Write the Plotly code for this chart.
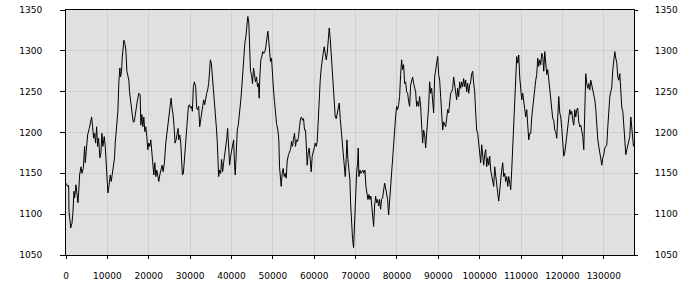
import plotly.graph_objects as go

# sample positions (x) and values (y)
x_part1 = [0, 402, 643, 724, 965, 1125, 1447, 1688, 1929, 2090, 2412, 2653, 2894, 3055, 3296, 3618, 3859, 4180, 4502, 4663,
           4984, 5225, 5627, 5949, 6190, 6431, 6672, 6914, 7155, 7396, 7637, 7878, 8200, 8441, 8682, 8923, 9245, 9486, 9727, 9888,
           10129, 10370, 10692, 10933, 11255, 11496, 11737, 11898, 12139, 12380, 12541, 12782, 13023, 13184, 13425, 13586, 13747, 13988, 14229, 14470,
           14711, 14953, 15194, 15354, 15676, 15998, 16239, 16480, 16721, 17043, 17284, 17605, 17927, 18088, 18329, 18570, 18811, 19052, 19294, 19535,
           19776, 20017, 20258, 20499, 20741, 20982, 21223, 21464, 21705, 21946, 22188, 22429, 22670, 22992, 23233, 23474, 23795, 24117, 24358, 24599,
           24921, 25162, 25403, 25644, 25886, 26127, 26368, 26609, 26850, 27091, 27252, 27493, 27735, 27976, 28137, 28378, 28619, 28860, 29101, 29342,
           29584, 29825, 30066, 30307, 30548, 30789, 31031, 31352, 31593, 31834, 32076, 32317, 32558, 32799, 33040, 33281, 33523, 33764, 34005, 34246,
           34487, 34728, 34889, 35130, 35372, 35613, 35854, 36095, 36336, 36577, 36738, 36899, 37140, 37381, 37622, 37863, 38105, 38346, 38587, 38828,
           39069, 39310, 39552, 39793, 40034, 40275, 40516, 40758, 40918, 41159, 41401, 41642]
y_part1 = [1138, 1134, 1135, 1103, 1093, 1083, 1089, 1103, 1128, 1120, 1136, 1126, 1114, 1126, 1148, 1158, 1150, 1156, 1183, 1163,
           1189, 1197, 1205, 1211, 1219, 1207, 1193, 1199, 1187, 1207, 1183, 1193, 1169, 1175, 1199, 1183, 1195, 1183, 1158, 1136,
           1126, 1134, 1148, 1140, 1150, 1163, 1169, 1187, 1203, 1211, 1226, 1262, 1279, 1268, 1275, 1291, 1307, 1313, 1309, 1301,
           1275, 1271, 1264, 1250, 1236, 1222, 1213, 1213, 1222, 1232, 1240, 1248, 1246, 1209, 1222, 1207, 1219, 1201, 1207, 1195,
           1179, 1187, 1183, 1191, 1175, 1165, 1148, 1163, 1146, 1154, 1144, 1140, 1148, 1156, 1160, 1152, 1163, 1187, 1197, 1207,
           1222, 1234, 1242, 1230, 1222, 1207, 1187, 1191, 1199, 1205, 1191, 1197, 1187, 1158, 1148, 1150, 1167, 1177, 1207, 1222,
           1232, 1234, 1230, 1232, 1226, 1256, 1262, 1256, 1230, 1228, 1232, 1207, 1219, 1224, 1232, 1240, 1234, 1244, 1248, 1252,
           1260, 1277, 1289, 1285, 1271, 1248, 1238, 1224, 1207, 1187, 1163, 1146, 1154, 1150, 1167, 1152, 1163, 1171, 1183, 1191,
           1205, 1183, 1160, 1171, 1177, 1187, 1191, 1158, 1148, 1175, 1203, 1209]

x_part2 = [42016, 42258, 42500, 42742, 42984, 43226, 43468, 43710, 43952, 44194, 44435, 44597, 44839, 45081, 45323, 45565, 45806, 46048, 46290, 46532,
           46694, 46855, 47097, 47339, 47581, 47823, 48065, 48306, 48548, 48790, 49032, 49274, 49435, 49677, 49919, 50161, 50403, 50645, 50887, 51210,
           51452, 51613, 51774, 52016, 52258, 52500, 52742, 52984, 53226, 53468, 53790, 54032, 54274, 54516, 54758, 55000, 55242, 55484, 55726, 55968,
           56210, 56452, 56694, 56935, 57177, 57419, 57661, 57903, 58145, 58306, 58548, 58790, 59032, 59274, 59516, 59758, 60000, 60242, 60484, 60726,
           60968, 61210, 61452, 61694, 61935, 62177, 62419, 62661, 62903, 63145, 63387, 63629, 63871, 64113, 64355, 64597, 64839, 65081, 65323, 65565,
           65806, 66048, 66290, 66532, 66774, 67016, 67258, 67500, 67742, 67903, 68145, 68387, 68629, 68790, 69032, 69274, 69516, 69758, 70000, 70242,
           70484, 70645, 70806, 71048, 71290, 71532, 71774, 72016, 72258, 72500, 72742, 72984, 73226, 73468, 73710, 73952, 74194, 74355, 74597, 74839,
           75081, 75323, 75565, 75806, 76048, 76290, 76532, 76774, 77016, 77258, 77500, 77742, 77984, 78226, 78468, 78710, 78952, 79194, 79435, 79677,
           79919, 80161, 80403, 80645, 80887, 81129, 81371, 81613, 81855, 82097, 82339, 82581, 82823, 83065, 83306, 83548, 83790, 84032, 84274, 84516,
           84758, 85000, 85242, 85484, 85726, 85968, 86210, 86452, 86694, 86935, 87177, 87419, 87661, 87903, 88145, 88387, 88629, 88871, 89113, 89355,
           89597, 89839, 90081, 90323, 90565, 90806, 91048, 91290, 91532, 91774, 92016, 92258, 92500, 92742, 92984, 93226, 93468, 93710, 93952, 94194,
           94435, 94677, 94919]
y_part2 = [1224, 1240, 1256, 1277, 1289, 1309, 1317, 1334, 1342, 1334, 1309, 1275, 1271, 1260, 1279, 1268, 1262, 1268, 1256, 1260,
           1242, 1268, 1289, 1293, 1299, 1297, 1299, 1305, 1313, 1324, 1311, 1299, 1287, 1291, 1264, 1252, 1238, 1222, 1211, 1203,
           1191, 1158, 1142, 1134, 1150, 1156, 1146, 1150, 1144, 1165, 1173, 1177, 1179, 1189, 1183, 1193, 1199, 1183, 1191, 1189,
           1195, 1207, 1217, 1219, 1215, 1217, 1203, 1203, 1183, 1160, 1175, 1181, 1167, 1152, 1171, 1175, 1181, 1187, 1183, 1189,
           1219, 1256, 1264, 1279, 1291, 1297, 1305, 1295, 1289, 1297, 1317, 1328, 1315, 1297, 1275, 1258, 1240, 1219, 1217, 1224,
           1234, 1236, 1217, 1203, 1183, 1171, 1158, 1146, 1167, 1191, 1167, 1156, 1142, 1114, 1085, 1069, 1059, 1093, 1126, 1150,
           1163, 1181, 1146, 1154, 1150, 1152, 1154, 1150, 1154, 1134, 1126, 1118, 1124, 1118, 1122, 1106, 1091, 1085, 1110, 1122,
           1114, 1118, 1110, 1118, 1106, 1118, 1120, 1128, 1138, 1132, 1126, 1118, 1099, 1118, 1136, 1152, 1175, 1183, 1211, 1219,
           1232, 1228, 1234, 1244, 1271, 1289, 1277, 1283, 1260, 1262, 1250, 1248, 1238, 1232, 1258, 1264, 1268, 1260, 1252, 1250,
           1232, 1238, 1232, 1244, 1232, 1211, 1187, 1203, 1197, 1181, 1195, 1219, 1232, 1262, 1248, 1254, 1236, 1224, 1268, 1279,
           1287, 1293, 1271, 1264, 1244, 1228, 1203, 1213, 1209, 1207, 1217, 1228, 1224, 1236, 1248, 1250, 1254, 1268, 1260, 1248,
           1240, 1254, 1244]

x_part3 = [95161, 95403, 95645, 95887, 96129, 96371, 96613, 96855, 97097, 97339, 97581, 97823, 98065, 98306, 98548, 98790, 99032, 99274, 99516, 99758,
           100000, 100242, 100484, 100726, 100968, 101210, 101452, 101694, 101935, 102177, 102419, 102661, 102903, 103145, 103387, 103629, 103871, 104113, 104355, 104597,
           104839, 105081, 105323, 105565, 105806, 106048, 106290, 106532, 106774, 107016, 107258, 107500, 107742, 107984, 108226, 108468, 108710, 108952, 109194, 109435,
           109677, 109919, 110161, 110403, 110645, 110887, 111129, 111371, 111613, 111855, 112097, 112339, 112581, 112823, 113065, 113306, 113548, 113790, 114032, 114274,
           114516, 114758, 115000, 115242, 115484, 115726, 115968, 116210, 116452, 116694, 116935, 117177, 117419, 117661, 117903, 118145, 118387, 118629, 118871, 119113,
           119355, 119597, 119839, 120081, 120323, 120565, 120806, 121048, 121290, 121532, 121774, 122016, 122258, 122500, 122742, 122984, 123226, 123468, 123710, 123952,
           124194, 124435, 124677, 124919, 125161, 125403, 125645, 125887, 126129, 126371, 126613, 126855, 127097, 127339, 127581, 127823, 128065, 128306, 128548, 128790,
           129032, 129274, 129516, 129758, 130000, 130242, 130484, 130726, 130968, 131210, 131452, 131694, 131935, 132177, 132419, 132661, 132903, 133145, 133387, 133629,
           133871, 134113, 134355, 134597, 134839, 135081, 135323, 135565, 135806, 136048, 136290, 136532, 136774, 137016, 137177]
y_part3 = [1262, 1254, 1262, 1256, 1266, 1256, 1264, 1250, 1260, 1248, 1258, 1262, 1272, 1275, 1260, 1250, 1224, 1203, 1199, 1187,
           1175, 1163, 1185, 1171, 1160, 1173, 1179, 1158, 1169, 1160, 1171, 1154, 1148, 1142, 1134, 1158, 1146, 1130, 1126, 1116,
           1130, 1146, 1154, 1163, 1146, 1150, 1140, 1146, 1134, 1146, 1140, 1130, 1154, 1183, 1219, 1232, 1264, 1293, 1285, 1295,
           1268, 1248, 1240, 1248, 1240, 1228, 1219, 1228, 1205, 1191, 1199, 1199, 1219, 1232, 1244, 1256, 1264, 1271, 1291, 1281,
           1289, 1283, 1297, 1293, 1275, 1299, 1285, 1271, 1277, 1264, 1248, 1236, 1224, 1217, 1215, 1203, 1201, 1193, 1219, 1244,
           1224, 1219, 1205, 1187, 1171, 1175, 1187, 1199, 1207, 1219, 1228, 1222, 1226, 1215, 1209, 1228, 1219, 1228, 1230, 1213,
           1207, 1209, 1203, 1195, 1179, 1248, 1272, 1260, 1254, 1260, 1252, 1264, 1258, 1256, 1248, 1240, 1228, 1207, 1191, 1183,
           1173, 1167, 1160, 1169, 1173, 1181, 1183, 1185, 1207, 1232, 1244, 1250, 1256, 1277, 1289, 1299, 1291, 1285, 1268, 1264,
           1272, 1252, 1230, 1226, 1211, 1195, 1173, 1179, 1185, 1191, 1195, 1219, 1207, 1191, 1183]

x_vals = x_part1 + x_part2 + x_part3
y_vals = y_part1 + y_part2 + y_part3

x_ticks = [0, 10000, 20000, 30000, 40000, 50000, 60000, 70000, 80000, 90000, 100000, 110000, 120000, 130000]
y_ticks = [1050, 1100, 1150, 1200, 1250, 1300, 1350]
x_range = [0, 137300]
y_range = [1050, 1350]

font = dict(family="DejaVu Sans", size=9, color="#000000")

fig = go.Figure()
fig.add_trace(go.Scatter(x=x_vals, y=y_vals, mode="lines",
                         line=dict(color="#000000", width=1), hoverinfo="skip", showlegend=False))
fig.add_trace(go.Scatter(x=x_vals, y=y_vals, mode="lines", yaxis="y2", opacity=0,
                         line=dict(color="#000000", width=1), hoverinfo="skip", showlegend=False))

axis_common = dict(showline=True, linecolor="#000000", linewidth=1, ticks="outside",
                   tickcolor="#000000", tickwidth=1, tickfont=font, zeroline=False,
                   automargin=False)

fig.update_layout(
    width=700, height=300,
    margin=dict(l=66, r=66, t=10, b=45, autoexpand=False),
    paper_bgcolor="#ffffff", plot_bgcolor="#e0e0e0",
    font=font,
    xaxis=dict(range=x_range, tickvals=x_ticks, ticktext=[str(v) for v in x_ticks],
               showgrid=True, gridcolor="#cecece", gridwidth=1, mirror=True,
               ticklen=3, ticklabelstandoff=9, **axis_common),
    yaxis=dict(range=y_range, tickvals=y_ticks, ticktext=[str(v) for v in y_ticks],
               showgrid=True, gridcolor="#cecece", gridwidth=1, mirror=True,
               ticklen=5, ticklabelstandoff=16, **axis_common),
    yaxis2=dict(range=y_range, tickvals=y_ticks, ticktext=[str(v) for v in y_ticks],
                overlaying="y", side="right", showgrid=False,
                ticklen=3, ticklabelstandoff=15, **axis_common),
)

fig.write_html("out.html")
